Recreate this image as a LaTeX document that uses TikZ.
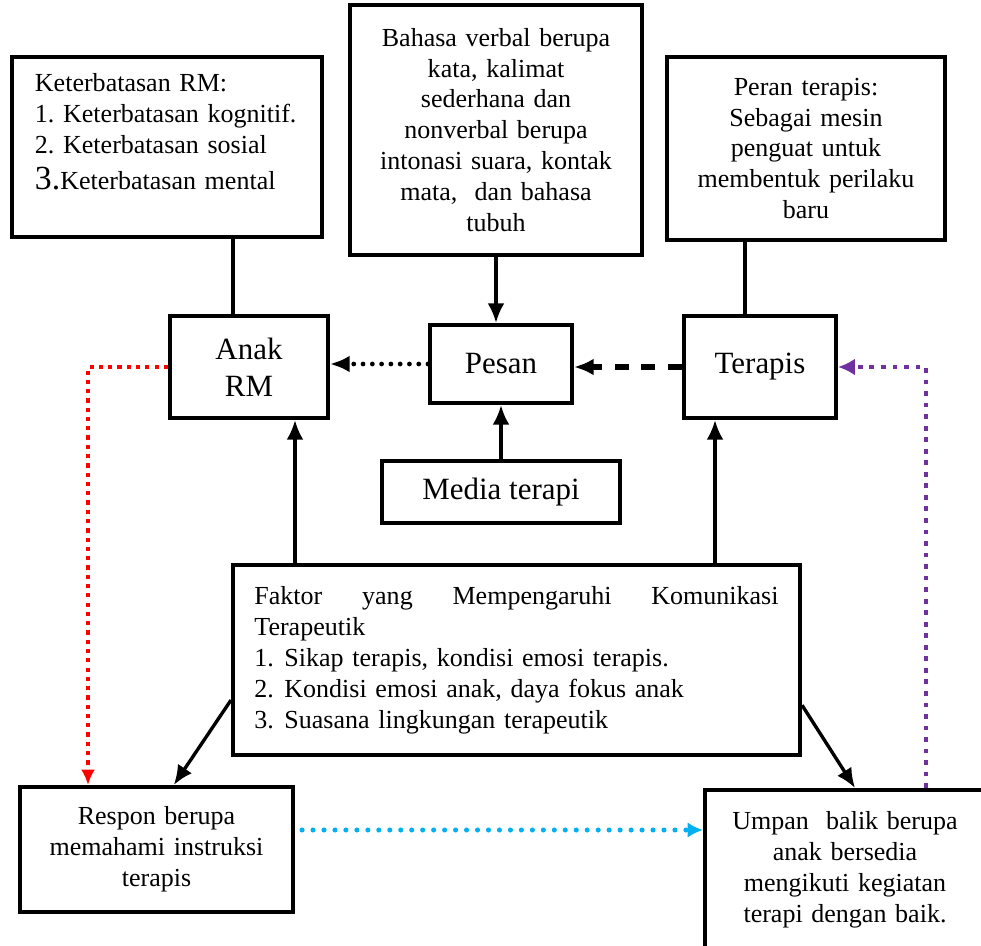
\documentclass[tikz,border=0pt]{standalone}
\usepackage{fontspec}
\setmainfont{Liberation Serif}
\usepackage{xcolor}
\usetikzlibrary{arrows.meta, calc, positioning}
\definecolor{rdcol}{RGB}{255,0,0}
\definecolor{pucol}{RGB}{112,48,160}
\definecolor{cycol}{RGB}{0,176,240}
\newcommand{\txtfont}{\fontsize{18.5}{22}\selectfont\frenchspacing}
\newcommand{\bigtxt}{\fontsize{22}{26}\selectfont}
\tikzset{
  % Box style
  box/.style={
    draw, line width=2.8pt, inner sep=0pt, align=center
  },
  % Graph arrow style
  garr/.style={
    line width=2.4pt, -{Latex[length=14pt,width=12pt]}
  },
  gline/.style={
    line width=2.4pt
  },
  kdot/.style={
    garr, line width=3.4pt, line cap=round, dash pattern=on 0pt off 6.6pt
  },
  kdash/.style={
    garr, line width=3.8pt, dash pattern=on 10pt off 9pt
  },
  rdot/.style={
    rdcol, line width=3pt, dash pattern=on 3pt off 3.6pt,
    -{Latex[length=11pt,width=10pt]}
  },
  pdot/.style={
    pucol, line width=3.4pt, dash pattern=on 3.4pt off 4.8pt,
    -{Latex[length=12pt,width=12pt]}
  },
  cdot/.style={
    cycol, line width=3.6pt, line cap=round, dash pattern=on 0pt off 7.8pt,
    -{Latex[length=11pt,width=11pt]}
  },
}

\begin{document}
\begin{tikzpicture}
          [x=0.025cm, y=-0.025cm, font=\txtfont]
          \useasboundingbox (0,0) rectangle (981,946);

          \node (ket) [box, align=left
                      , minimum width=7.75cm, minimum height=4.5cm
                      , text width=7cm
                      ] at (167,147)
                      {\hspace*{0.2cm}Keterbatasan RM:\\\hspace*{0.2cm}1. Keterbatasan kognitif.\\
                       \hspace*{0.2cm}2. Keterbatasan sosial\\[0.15cm]
                       \hspace*{0.2cm}{\fontsize{24}{22}\selectfont 3.}Keterbatasan mental\\~};
          \node (bhs) [box
                      , minimum width=7.3cm, minimum height=6.25cm
                      , text width=6.8cm
                      ] at (496,130)
                      {Bahasa verbal berupa\\kata, kalimat\\sederhana dan\\nonverbal berupa\\
                       intonasi suara, kontak\\mata,\ \ dan bahasa\\tubuh};
          \node (peran) [box
                        , minimum width=6.95cm, minimum height=4.575cm
                        , text width=6.5cm
                        ] at (806,148.5)
                        {Peran terapis:\\Sebagai mesin\\penguat untuk\\membentuk perilaku\\baru};

          \node (anak) [box, font=\bigtxt
                       , minimum width=3.95cm, minimum height=2.55cm
                       ] at (249,367) {Anak\\RM};
          \node (pesan) [box, font=\bigtxt
                        , minimum width=3.55cm, minimum height=1.95cm
                        ] at (501,364) {Pesan};
          \node (terapis) [box, font=\bigtxt
                          , minimum width=3.8cm, minimum height=2.55cm
                          ] at (760,367) {Terapis};
          \node (media) [box, font=\bigtxt
                        , minimum width=5.95cm, minimum height=1.55cm
                        ] at (501,492) {Media terapi};

          \node (faktor) [box, align=left
                         , minimum width=14.175cm, minimum height=4.75cm
                         , text width=13.1cm
                         ] at (516.5,660)
                         {Faktor\hfill yang\hfill Mempengaruhi\hfill Komunikasi\\
                          Terapeutik\\
                          \makebox[0.75cm][l]{1.}Sikap terapis, kondisi emosi terapis.\\
                          \makebox[0.75cm][l]{2.}Kondisi emosi anak, daya fokus anak\\
                          \makebox[0.75cm][l]{3.}Suasana lingkungan terapeutik};

          \node (respon) [box
                         , minimum width=6.825cm, minimum height=3.125cm
                         , text width=6.4cm
                         ] at (156.5,849.5)
                         {Respon berupa\\memahami instruksi\\terapis};
          \node (umpan) [box
                        , minimum width=7cm, minimum height=4cm
                        , text width=6.4cm
                        ] at (845,870)
                        {Umpan\ \ balik berupa\\anak bersedia\\mengikuti kegiatan\\terapi dengan baik.};

          % x and y positions of the connectors
          \coordinate (kx) at (233,0);
          \coordinate (tx) at (745,0);
          \coordinate (ax) at (295,0);
          \coordinate (fx) at (715,0);
          \coordinate (rx) at (88,0);
          \coordinate (px) at (926,0);
          \coordinate (cy) at (0,830);

          \draw[gline] (ket.south -| kx) -- (anak.north -| kx);
          \draw[gline] (peran.south -| tx) -- (terapis.north -| tx);
          \draw[garr] (bhs.south) -- (bhs.south |- pesan.north);
          \draw[garr] (media.north) -- (media.north |- pesan.south);
          \draw[kdot] (pesan.west) -- (pesan.west -| anak.east);
          \draw[kdash] (terapis.west) -- (terapis.west -| pesan.east);
          \draw[garr] (faktor.north -| ax) -- (anak.south -| ax);
          \draw[garr] (faktor.north -| fx) -- (terapis.south -| fx);
          \draw[garr] (faktor.188.6) -- (respon.75);
          \draw[garr] (faktor.351.4) -- (umpan.83);

          \draw[rdot] (anak.west) -- (anak.west -| rx) -- (respon.north -| rx);
          \draw[pdot] (umpan.north -| px) -- (terapis.east -| px) -- (terapis.east);
          \draw[cdot, shorten <=5pt] (respon.east |- cy) -- (umpan.west |- cy);
      \end{tikzpicture}
\end{document}
